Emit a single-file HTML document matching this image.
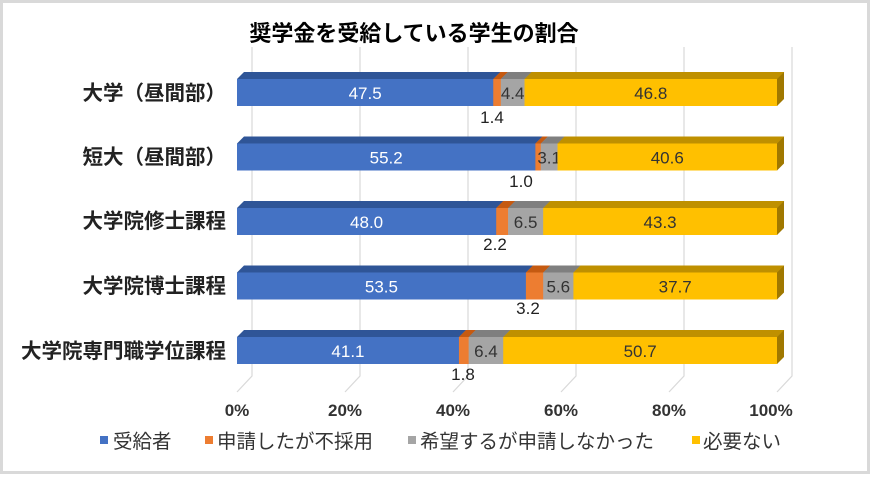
<!DOCTYPE html>
<html><head><meta charset="utf-8"><style>
body{margin:0;width:870px;height:475px;overflow:hidden;background:#fff}
text{font-family:"Liberation Sans","Noto Sans CJK JP",sans-serif}
</style></head><body>
<svg width="870" height="475" xmlns="http://www.w3.org/2000/svg">
<rect x="1.5" y="1.5" width="867" height="471" fill="#fff" stroke="#d9d9d9" stroke-width="3"/>
<text x="414" y="41" text-anchor="middle" font-size="22" font-weight="bold" fill="#000">奨学金を受給している学生の割合</text>
<g stroke="#d9d9d9" stroke-width="1.2" fill="none">
<path d="M252,47V376L237,392"/><path d="M360,47V376L345,392"/><path d="M468,47V376L453,392"/><path d="M576,47V376L561,392"/><path d="M684,47V376L669,392"/><path d="M792,47V376L777,392"/>
</g>
<g font-size="17" font-weight="bold" fill="#333" text-anchor="middle">
<text x="237" y="416">0%</text><text x="345" y="416">20%</text><text x="453" y="416">40%</text><text x="561" y="416">60%</text><text x="669" y="416">80%</text><text x="771" y="416">100%</text>
</g>
<g font-size="20.5" font-weight="bold" fill="#222" text-anchor="end">
<text x="226" y="100">大学（昼間部）</text>
<text x="226" y="164">短大（昼間部）</text>
<text x="226" y="228">大学院修士課程</text>
<text x="226" y="293">大学院博士課程</text>
<text x="226" y="358">大学院専門職学位課程</text>
</g>
<g id="bars"></g>
<g font-size="17" fill="#222" text-anchor="middle">
<text x="492" y="123">1.4</text><text x="521" y="187">1.0</text><text x="495" y="250">2.2</text><text x="528" y="314">3.2</text><text x="463" y="380">1.8</text>
</g>
<g font-size="19.5">
<rect x="100" y="436" width="8" height="8" fill="#4472c4"/><text x="113" y="448" fill="#333">受給者</text>
<rect x="205" y="436" width="8" height="8" fill="#ed7d31"/><text x="217" y="448" fill="#333">申請したが不採用</text>
<rect x="408" y="436" width="8" height="8" fill="#a5a5a5"/><text x="420" y="448" fill="#333">希望するが申請しなかった</text>
<rect x="692" y="436" width="8" height="8" fill="#ffc000"/><text x="703" y="448" fill="#333">必要ない</text>
</g>
</svg>
<script>
var data=[[47.5,1.4,4.4,46.8],[55.2,1.0,3.1,40.6],[48.0,2.2,6.5,43.3],[53.5,3.2,5.6,37.7],[41.1,1.8,6.4,50.7]];
var cols=["#4472c4","#ed7d31","#a5a5a5","#ffc000"],tops=["#2f5597","#c55a11","#7f7f7f","#bf9000"],tc=["#fff","#fff","#333","#333"];
var ys=[79,143.5,208,272.5,337],h=27,d=7,x0=237,g=document.getElementById("bars"),o="";
data.forEach(function(r,i){var y=ys[i],x=x0,tot=r.reduce(function(a,b){return a+b},0);
r.forEach(function(v,j){var w=v/tot*540;
o+='<rect x="'+x+'" y="'+y+'" width="'+(w+0.3)+'" height="'+h+'" fill="'+cols[j]+'"/>';
o+='<polygon points="'+x+','+y+' '+(x+d)+','+(y-d)+' '+(x+w+d+0.3)+','+(y-d)+' '+(x+w+0.3)+','+y+'" fill="'+tops[j]+'"/>';
if(j!=1)o+='<text x="'+(x+w/2)+'" y="'+(y+20)+'" font-size="17" text-anchor="middle" fill="'+tc[j]+'">'+v.toFixed(1)+'</text>';
x+=w;});
o+='<polygon points="'+x+','+y+' '+(x+d)+','+(y-d)+' '+(x+d)+','+(y+h-d)+' '+x+','+(y+h)+'" fill="#a07800"/>';
});
g.innerHTML=o;
</script>
</body></html>
